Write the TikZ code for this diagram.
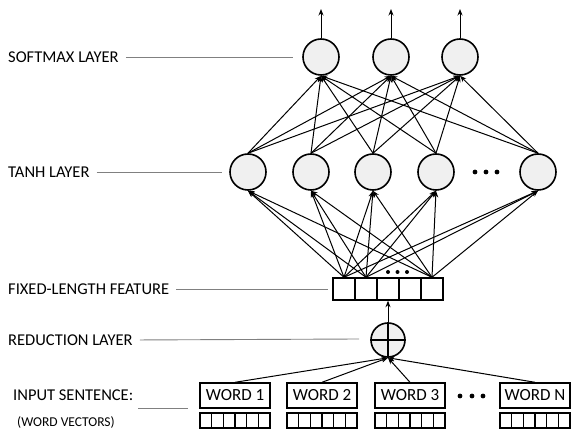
\documentclass[tikz,border=0pt]{standalone}
\usepackage{fontspec}
\setmainfont{Carlito}
\usetikzlibrary{arrows.meta}

\begin{document}
\begin{tikzpicture}[x=1pt,y=-1pt,
  neuron/.style={circle,draw,line width=1.6pt,fill=gray!12,minimum size=36pt,inner sep=0pt},
  cell/.style={draw,line width=1.4pt,minimum width=22pt,minimum height=22pt,inner sep=0pt},
  wordbox/.style={draw,line width=1.4pt,minimum width=70pt,minimum height=25pt,inner sep=0pt,font=\fontsize{17}{19}\selectfont},
  lbl/.style={anchor=west,inner sep=0pt,font=\fontsize{16.5}{19}\selectfont},
  guide/.style={draw=gray,line width=0.9pt,shorten <=7pt},
  conn/.style={-{Stealth[length=6.5pt,width=5pt]},line width=1pt}]

\useasboundingbox (0,0) rectangle (571,430);

% layer labels
\node[lbl] (lsoft) at (8,57) {SOFTMAX LAYER};
\node[lbl] (ltanh) at (8,172) {TANH LAYER};
\node[lbl] (lfeat) at (8,289) {FIXED-LENGTH FEATURE};
\node[lbl] (lred) at (8,340) {REDUCTION LAYER};
\node[lbl] (linput) at (13,395) {INPUT SENTENCE:};
\node[lbl,font=\fontsize{13.5}{16}\selectfont] (lvec) at (17,422) {(WORD VECTORS)};

\coordinate (gsoft) at (293,57);
\coordinate (gtanh) at (222,172);
\coordinate (gfeat) at (328,289);
\coordinate (gred) at (359,339);
\coordinate (ginput1) at (138,408);
\coordinate (ginput2) at (188,408);

\draw[guide] (lsoft.east) -- (gsoft);
\draw[guide] (ltanh.east) -- (gtanh);
\draw[guide] (lfeat.east) -- (gfeat);
\draw[guide] (lred.east) -- (gred);
\draw[guide,shorten <=0pt] (ginput1) -- (ginput2);

%%%%%%%%%%%%%%%
% softmax layer
\node[neuron] (s1) at (321,57) {};
\node[neuron] (s2) at (391,57) {};
\node[neuron] (s3) at (460,57) {};

\coordinate (o1) at (321,9);
\coordinate (o2) at (391,9);
\coordinate (o3) at (460,9);

\draw[conn] (s1) -- (o1);
\draw[conn] (s2) -- (o2);
\draw[conn] (s3) -- (o3);

%%%%%%%%%%%%%%%
% tanh layer
\node[neuron] (t1) at (248,172) {};
\node[neuron] (t2) at (311,172) {};
\node[neuron] (t3) at (373,172) {};
\node[neuron] (t4) at (436,172) {};
\node[neuron] (t5) at (538,172) {};

\fill (475,172) circle (2.4pt) (486,172) circle (2.4pt) (497,172) circle (2.4pt);

\foreach \i in {1,...,5}
  \foreach \j in {1,2,3}
    \draw[conn] (t\i.north) -- (s\j.south);

%%%%%%%%%%%%%%%
% fixed-length feature
\node[cell] (f1) at (344,289) {};
\node[cell] (f2) at (366,289) {};
\node[cell] (f3) at (388,289) {};
\node[cell] (f4) at (410,289) {};
\node[cell] (f5) at (432,289) {};

\fill (388,272) circle (2pt) (397.5,272) circle (2pt) (407,272) circle (2pt);

\foreach \c in {1,2,5}
  \foreach \i in {1,...,5}
    \draw[conn] (f\c.north) -- (t\i.south);

%%%%%%%%%%%%%%%
% reduction layer
\node[neuron,minimum size=34pt] (r) at (388,340) {};
\draw[line width=1.6pt] (r.north) -- (r.south) (r.west) -- (r.east);

\draw[conn] (r) -- (f3.south);

%%%%%%%%%%%%%%%
% input sentence
\node[wordbox] (w1) at (235,395.5) {WORD 1};
\node[wordbox] (w2) at (322,395.5) {WORD 2};
\node[wordbox] (w3) at (410,395.5) {WORD 3};
\node[wordbox] (wn) at (535,395.5) {WORD N};

\fill (460,396) circle (2.4pt) (472,396) circle (2.4pt) (483,396) circle (2.4pt);

\foreach \x in {200,287,375,500}
  \foreach \i in {0,...,5}
    \draw[line width=1.4pt] (\x+\i*11.67,413) rectangle ++(11.67,15);

\draw[conn] (w1.north) -- (r.south);
\draw[conn] (w2.north) -- (r.south);
\draw[conn] (w3.north) -- (r.south);
\draw[conn] (wn.north) -- (r.south);

\end{tikzpicture}
\end{document}
